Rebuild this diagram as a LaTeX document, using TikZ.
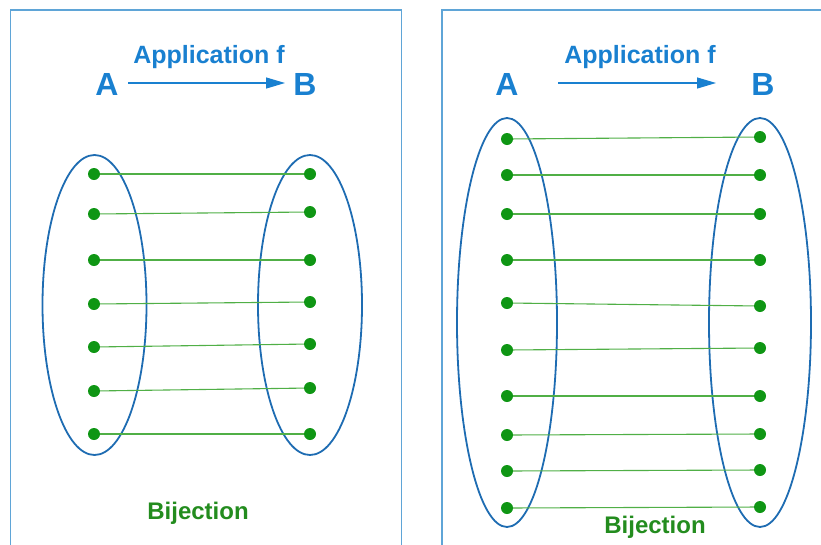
\documentclass[tikz,border=0pt]{standalone}
\usepackage{fontspec}
\setmainfont{Liberation Sans}
\usetikzlibrary{arrows.meta}
\definecolor{frameblue}{RGB}{95,165,215}
\definecolor{textblue}{RGB}{25,128,208}
\definecolor{ellblue}{RGB}{30,108,178}
\definecolor{dotgreen}{RGB}{15,150,20}
\definecolor{linegreen}{RGB}{80,175,70}
\definecolor{bijgreen}{RGB}{35,140,30}
\tikzset{
  panel/.style={draw=frameblue,line width=1.2pt},
  setlabel/.style={text=textblue,font=\fontsize{32}{32}\selectfont\bfseries,inner sep=0pt},
  applabel/.style={text=textblue,font=\fontsize{25}{25}\selectfont\bfseries,inner sep=0pt},
  maparrow/.style={draw=textblue,line width=1.2pt,-{Triangle[length=19pt,width=11pt]}},
  setell/.style={draw=ellblue,line width=1.8pt},
  elem/.style={circle,fill=dotgreen,inner sep=0pt,minimum size=12pt},
  pairline/.style={draw=linegreen,line width=1.1pt},
  bij/.style={text=bijgreen,font=\fontsize{24}{24}\selectfont\bfseries,inner sep=0pt}
}
\begin{document}
\begin{tikzpicture}[x=1pt,y=-1pt]
\useasboundingbox (0,0) rectangle (821,544);
\begin{scope}
\clip (0,0) rectangle (821,544);
% frames
\draw[panel] (10.5,10) rectangle (401.5,600);
\draw[panel] (442,10) rectangle (900,600);
% left panel
\node[setlabel] (LA) at (107,84) {A};
\node[setlabel] (LB) at (305,84) {B};
\node[applabel] (Lf) at (209,57) {Application f};
\coordinate (La1) at (128,83);
\coordinate (La2) at (285,83);
\draw[maparrow] (La1) -- (La2);
\draw[setell] (94.5,305) ellipse [x radius=52,y radius=150];
\draw[setell] (310,305) ellipse [x radius=52,y radius=150];
\foreach \i/\ya/\yb in {1/174/174,2/214/212,3/260/260,4/304/302,5/347/344,6/391/388,7/434/434}{
  \node[elem] (la\i) at (94,\ya) {};
  \node[elem] (lb\i) at (310,\yb) {};
  \draw[pairline] (la\i) -- (lb\i);
}
\node[bij] (Lbij) at (198,513) {Bijection};
% right panel
\node[setlabel] (RA) at (507,84) {A};
\node[setlabel] (RB) at (763,84) {B};
\node[applabel] (Rf) at (640,57) {Application f};
\coordinate (Ra1) at (558,83);
\coordinate (Ra2) at (716,83);
\draw[maparrow] (Ra1) -- (Ra2);
\draw[setell] (507,322.5) ellipse [x radius=50,y radius=204.5];
\draw[setell] (760,322.5) ellipse [x radius=51,y radius=204.5];
\foreach \i/\ya/\yb in {1/139/137,2/175/175,3/214/214,4/260/260,5/303/306,6/350/348,7/396/396,8/435/434,9/471/470,10/508/507}{
  \node[elem] (ra\i) at (507,\ya) {};
  \node[elem] (rb\i) at (760,\yb) {};
  \draw[pairline] (ra\i) -- (rb\i);
}
\node[bij] (Rbij) at (655,527) {Bijection};
\end{scope}
\end{tikzpicture}
\end{document}
